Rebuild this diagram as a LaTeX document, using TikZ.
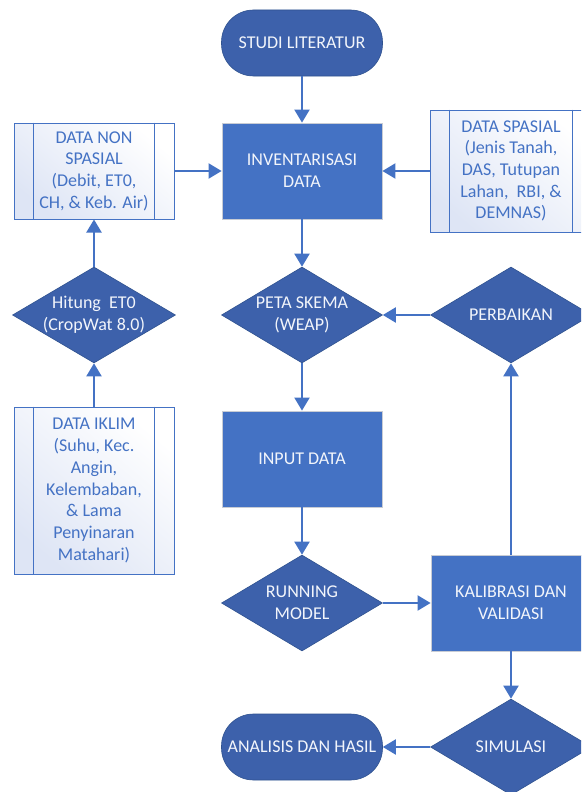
\documentclass[tikz,border=0pt]{standalone}
\usepackage{fontspec}
\setmainfont{Carlito}
\usetikzlibrary{shapes.geometric,arrows.meta}
\definecolor{rectblue}{RGB}{68,114,196}
\definecolor{darkblue}{RGB}{61,97,171}
\definecolor{edgeblue}{RGB}{47,82,143}
\definecolor{lightfill}{RGB}{222,229,245}
\definecolor{txtblue}{RGB}{68,114,196}
\definecolor{whitetext}{RGB}{242,245,251}
\definecolor{rectedge}{RGB}{200,204,212}
\begin{document}
\begin{tikzpicture}[x=1pt,y=-1pt,
  every node/.style={font=\fontsize{18}{21.7}\selectfont, align=center},
  procbox/.style={rectangle, fill=rectblue, draw=rectedge, line width=0.8pt,
    minimum width=160pt, minimum height=96pt, text=whitetext},
  termbox/.style={rectangle, rounded corners=32pt, fill=darkblue, draw=edgeblue,
    line width=0.6pt, minimum width=161pt, minimum height=66pt, text=whitetext},
  decbox/.style={diamond, fill=darkblue, draw=edgeblue, line width=0.6pt,
    minimum width=161pt, minimum height=96pt, inner sep=0pt},
  dtext/.style={text=whitetext, inner sep=0pt},
  databox/.style={rectangle, draw=rectblue, line width=1pt, top color=white,
    bottom color=lightfill, shading angle=-40, text=txtblue, minimum width=160pt},
  flow/.style={draw=rectblue, line width=2pt, -{Triangle[length=13pt,width=15pt]}}
]
\clip (0,0) rectangle (581,792);
\fill[white] (0,0) rectangle (581,792);

% terminals
\node[termbox] (studi) at (302,43) {STUDI LITERATUR};
\node[termbox] (anal) at (302,747) {ANALISIS DAN HASIL};

% processes
\node[procbox] (inv) at (302,171) {INVENTARISASI\\DATA};
\node[procbox] (input) at (302,459) {INPUT DATA};
\node[procbox] (kal) at (511,603) {KALIBRASI DAN\\VALIDASI};

% decisions
\node[decbox] (peta) at (302,315) {};
\node[dtext] (petat) at (peta.center) {PETA SKEMA\\(WEAP)};
\node[decbox] (perb) at (511,315) {};
\node[dtext] (perbt) at (perb.center) {PERBAIKAN};
\node[decbox] (run) at (302,603) {};
\node[dtext] (runt) at (run.center) {RUNNING\\MODEL};
\node[decbox] (sim) at (511,747) {};
\node[dtext] (simt) at (sim.center) {SIMULASI};
\node[decbox, minimum width=163pt] (hit) at (94,315) {};
\node[dtext] (hitt) at (hit.center) {Hitung\ \ ET0\\(CropWat 8.0)};

% data boxes
\node[databox, minimum height=96pt] (dnon) at (94,171)
  {DATA NON\\SPASIAL\\(Debit, ET0,\\CH, \& Keb. Air)};
\node[databox, minimum width=162pt, minimum height=122pt] (dsp) at (511,171)
  {DATA SPASIAL\\(Jenis Tanah,\\DAS, Tutupan\\Lahan,\ \ RBI, \&\\DEMNAS)};
\node[databox, minimum height=167pt] (dikl) at (94,490.5)
  {DATA IKLIM\\(Suhu, Kec.\\Angin,\\Kelembaban,\\\& Lama\\Penyinaran\\Matahari)};
\foreach \b in {dnon,dsp,dikl}{
  \draw[rectblue, line width=1pt] ([xshift=20pt]\b.north west) -- ([xshift=20pt]\b.south west);
  \draw[rectblue, line width=1pt] ([xshift=-20pt]\b.north east) -- ([xshift=-20pt]\b.south east);
}

% connectors
\draw[flow] (studi) -- (inv);
\draw[flow] (dnon) -- (inv);
\draw[flow] (dsp) -- (inv);
\draw[flow] (inv) -- (peta);
\draw[flow] (perb) -- (peta);
\draw[flow] (peta) -- (input);
\draw[flow] (input) -- (run);
\draw[flow] (run) -- (kal);
\draw[flow] (kal) -- (perb);
\draw[flow] (kal) -- (sim);
\draw[flow] (sim) -- (anal);
\draw[flow] (hit) -- (dnon);
\draw[flow] (dikl) -- (hit);
\end{tikzpicture}
\end{document}
